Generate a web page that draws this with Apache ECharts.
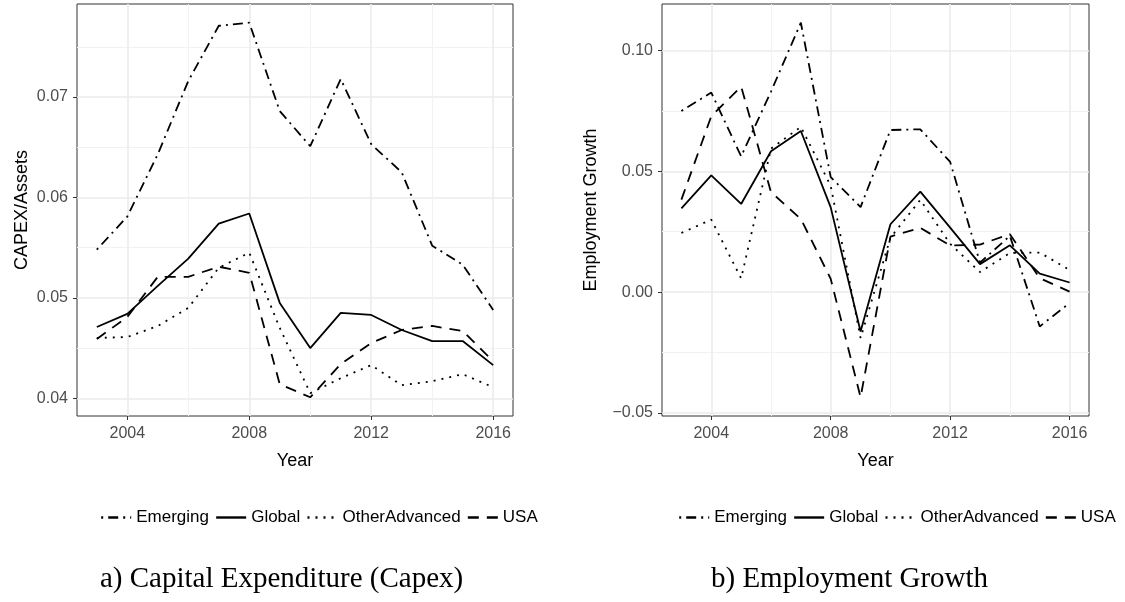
<!DOCTYPE html>
<html>
<head>
<meta charset="utf-8">
<script src="https://cdn.jsdelivr.net/npm/echarts@6/dist/echarts.min.js"></script>
<style>
html,body{margin:0;padding:0;background:#fff;}
#chart{width:1125px;height:602px;}
</style>
</head>
<body>
<div id="chart"></div>
<script>
// ---- Data ----
const years = [2003, 2004, 2005, 2006, 2007, 2008, 2009, 2010, 2011, 2012, 2013, 2014, 2015, 2016];
const seriesNames = ['Emerging', 'Global', 'OtherAdvanced', 'USA'];

// Panel a) CAPEX/Assets
const emergingCapex = [0.0548, 0.0581, 0.0643, 0.0716, 0.0771, 0.0774, 0.0686, 0.0651, 0.0718, 0.0653, 0.0625, 0.0552, 0.0533, 0.0488];
const globalCapex   = [0.0471, 0.0484, 0.0512, 0.0539, 0.0574, 0.0584, 0.0495, 0.0450, 0.0485, 0.0483, 0.0468, 0.0457, 0.0457, 0.0433];
const otherCapex    = [0.0460, 0.0461, 0.0472, 0.0490, 0.0530, 0.0545, 0.0470, 0.0405, 0.0420, 0.0433, 0.0413, 0.0417, 0.0424, 0.0411];
const usaCapex      = [0.0459, 0.0481, 0.0521, 0.0521, 0.0531, 0.0525, 0.0414, 0.0401, 0.0434, 0.0455, 0.0468, 0.0472, 0.0467, 0.0437];

// Panel b) Employment Growth
const emergingEmp = [0.0750, 0.0826, 0.0562, 0.0830, 0.1115, 0.0476, 0.0352, 0.0671, 0.0674, 0.0539, 0.0122, 0.0233, -0.0142, -0.0045];
const globalEmp   = [0.0347, 0.0483, 0.0365, 0.0583, 0.0667, 0.0351, -0.0163, 0.0281, 0.0416, 0.0267, 0.0116, 0.0194, 0.0077, 0.0040];
const otherEmp    = [0.0245, 0.0300, 0.0057, 0.0594, 0.0684, 0.0440, -0.0190, 0.0225, 0.0382, 0.0200, 0.0083, 0.0162, 0.0164, 0.0092];
const usaEmp      = [0.0383, 0.0728, 0.0851, 0.0414, 0.0303, 0.0055, -0.0435, 0.0230, 0.0266, 0.0193, 0.0197, 0.0240, 0.0058, 0.0002];

// Tick values
const xMajorTicks = [2004, 2008, 2012, 2016];
const xMinorTicks = [2006, 2010, 2014];
const yMajorCapex = [0.04, 0.05, 0.06, 0.07];
const yMinorCapex = [0.045, 0.055, 0.065, 0.075];
const yMajorEmp = [-0.05, 0.00, 0.05, 0.10];
const yMinorEmp = [-0.025, 0.025, 0.075];

// Texts
const yTitleCapex = 'CAPEX/Assets';
const yTitleEmp = 'Employment Growth';
const xTitle = 'Year';
const captionA = 'a) Capital Expenditure (Capex)';
const captionB = 'b) Employment Growth';

// ---- Styles ----
const SANS = '"Liberation Sans", Arial, Helvetica, sans-serif';
const SERIF = '"Liberation Serif", "Times New Roman", serif';
const dashTypes = {
  Emerging: [2, 5, 10, 5],
  Global: 'solid',
  OtherAdvanced: [2, 6],
  USA: [11, 8]
};

function extentPad(arrs) {
  let mn = Infinity, mx = -Infinity;
  arrs.forEach(a => a.forEach(v => { mn = Math.min(mn, v); mx = Math.max(mx, v); }));
  const pad = (mx - mn) * 0.05;
  return [mn - pad, mx + pad];
}
const xPad = (years[years.length - 1] - years[0]) * 0.05;
const xMin = years[0] - xPad, xMax = years[years.length - 1] + xPad;
const capexExt = extentPad([emergingCapex, globalCapex, otherCapex, usaCapex]);
const empExt = extentPad([emergingEmp, globalEmp, otherEmp, usaEmp]);

const grids = [
  { left: 77, top: 4, width: 436, height: 412, show: true, borderColor: '#333333', borderWidth: 1, backgroundColor: 'transparent' },
  { left: 662, top: 4, width: 427, height: 412, show: true, borderColor: '#333333', borderWidth: 1, backgroundColor: 'transparent' }
];

function fmtY(v) {
  return v.toFixed(2).replace('-', '\u2212');
}
function fmtX(v) {
  return String(Math.round(v));
}

function majorX(gi) {
  return {
    type: 'value', gridIndex: gi, min: xMin, max: xMax,
    name: xTitle, nameLocation: 'middle', nameGap: 36,
    nameTextStyle: { fontFamily: SANS, fontSize: 18, color: '#000' },
    axisLine: { show: false, onZero: false },
    axisTick: { show: true, length: 4, customValues: xMajorTicks, lineStyle: { color: '#333333', width: 1 } },
    axisLabel: { show: true, customValues: xMajorTicks, fontFamily: SANS, fontSize: 16, color: '#4d4d4d', margin: 10, formatter: fmtX },
    splitLine: { show: true, lineStyle: { color: '#ebebeb', width: 1.6 } }
  };
}
function minorX(gi) {
  return {
    type: 'value', gridIndex: gi, min: xMin, max: xMax,
    axisLine: { show: false, onZero: false },
    axisTick: { show: false, customValues: xMinorTicks },
    axisLabel: { show: false, customValues: xMinorTicks },
    splitLine: { show: true, lineStyle: { color: '#f2f2f2', width: 1 } }
  };
}
function majorY(gi, ext, ticks, title, gap) {
  return {
    type: 'value', gridIndex: gi, min: ext[0], max: ext[1],
    name: title, nameLocation: 'middle', nameGap: gap,
    nameTextStyle: { fontFamily: SANS, fontSize: 18, color: '#000' },
    axisLine: { show: false, onZero: false },
    axisTick: { show: true, length: 4, customValues: ticks, lineStyle: { color: '#333333', width: 1 } },
    axisLabel: { show: true, customValues: ticks, fontFamily: SANS, fontSize: 16, color: '#4d4d4d', margin: 9, formatter: fmtY },
    splitLine: { show: true, lineStyle: { color: '#ebebeb', width: 1.6 } }
  };
}
function minorY(gi, ext, ticks) {
  return {
    type: 'value', gridIndex: gi, min: ext[0], max: ext[1],
    axisLine: { show: false, onZero: false },
    axisTick: { show: false, customValues: ticks },
    axisLabel: { show: false, customValues: ticks },
    splitLine: { show: true, lineStyle: { color: '#f2f2f2', width: 1 } }
  };
}

const panelData = [
  [emergingCapex, globalCapex, otherCapex, usaCapex],
  [emergingEmp, globalEmp, otherEmp, usaEmp]
];

const series = [];
panelData.forEach((arrs, gi) => {
  arrs.forEach((vals, si) => {
    const name = seriesNames[si];
    series.push({
      name: name,
      type: 'line',
      xAxisIndex: gi,
      yAxisIndex: gi,
      symbol: 'none',
      silent: true,
      animation: false,
      z: 5,
      lineStyle: { color: '#000', width: 1.8, type: dashTypes[name] },
      itemStyle: { color: 'rgba(0,0,0,0)', opacity: 0 },
      data: years.map((y, i) => [y, vals[i]])
    });
  });
});

function legendAt(left) {
  return {
    data: seriesNames, left: left, top: 509, padding: 0,
    itemWidth: 30, itemHeight: 16, itemGap: 6,
    selectedMode: false,
    itemStyle: { color: 'rgba(0,0,0,0)', borderWidth: 0, opacity: 0 },
    lineStyle: { width: 2.4, color: '#000' },
    textStyle: { fontFamily: SANS, fontSize: 17, color: '#000' }
  };
}

const option = {
  backgroundColor: '#fff',
  animation: false,
  grid: grids,
  xAxis: [majorX(0), majorX(1), minorX(0), minorX(1)],
  yAxis: [
    majorY(0, capexExt, yMajorCapex, yTitleCapex, 46),
    majorY(1, empExt, yMajorEmp, yTitleEmp, 62),
    minorY(0, capexExt, yMinorCapex),
    minorY(1, empExt, yMinorEmp)
  ],
  legend: [legendAt(100), legendAt(678)],
  title: [
    { text: captionA, left: 100, top: 565, padding: 0,
      textStyle: { fontFamily: SERIF, fontSize: 29, fontWeight: 'normal', color: '#000' } },
    { text: captionB, left: 711, top: 565, padding: 0,
      textStyle: { fontFamily: SERIF, fontSize: 29, fontWeight: 'normal', color: '#000' } }
  ],
  series: series
};

const chart = echarts.init(document.getElementById('chart'), null, { renderer: 'canvas' });
chart.setOption(option);
</script>
</body>
</html>
